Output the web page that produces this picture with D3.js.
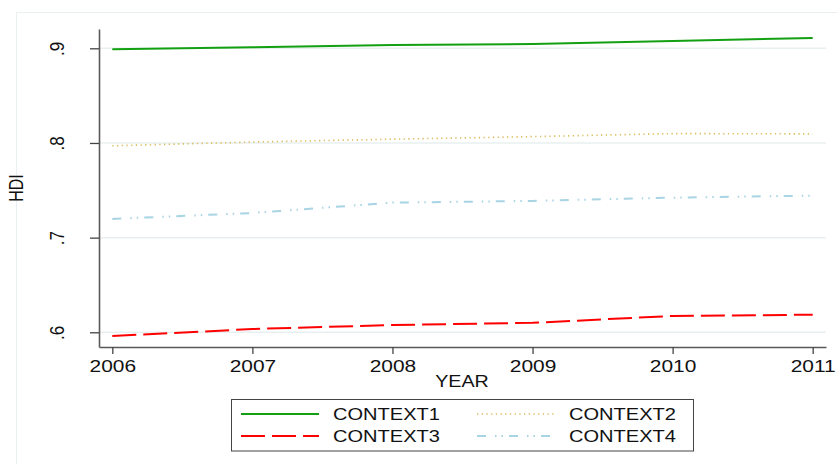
<!DOCTYPE html>
<html>
<head>
<meta charset="utf-8">
<script src="https://cdn.jsdelivr.net/npm/d3@7"></script>
<style>
  body { margin: 0; background: #fff; }
  text { font-family: "Liberation Sans", Arial, sans-serif; fill: #111; }
</style>
</head>
<body>
<div id="chart"></div>
<script>
// ------- Data -------
const years = [2006, 2007, 2008, 2009, 2010, 2011];
const context1 = [0.899, 0.901, 0.9035, 0.9045, 0.9077, 0.911];
const context2 = [0.797, 0.801, 0.804, 0.8067, 0.8099, 0.8096];
const context3 = [0.596, 0.6035, 0.6077, 0.610, 0.6173, 0.6186];
const context4 = [0.7198, 0.726, 0.737, 0.7388, 0.7422, 0.7444];
const yTicks = [0.6, 0.7, 0.8, 0.9];
const yTickLabels = [".6", ".7", ".8", ".9"];

const series = [
  { name: "CONTEXT1", values: context1, color: "#12a012", dash: null, width: 2 },
  { name: "CONTEXT2", values: context2, color: "#dcbc5c", dash: "1.3,3.4", width: 1.6 },
  { name: "CONTEXT3", values: context3, color: "#ff0000", dash: "24,7", width: 2 },
  { name: "CONTEXT4", values: context4, color: "#a8d4e4", dash: "9,9,1.5,5,1.5,6", width: 2 }
];

// ------- Chart Setup -------
const W = 837, H = 464;
const plot = { left: 99, right: 826, top: 29, bottom: 347 };
const stretch = 1.23; // text in the picture is widened

const svg = d3.select("#chart")
  .append("svg")
  .attr("width", W)
  .attr("height", H);

// outer frame
svg.append("rect")
  .attr("x", 16.5).attr("y", 12.5)
  .attr("width", W).attr("height", H)
  .attr("fill", "none")
  .attr("stroke", "#eaf0f1")
  .attr("stroke-width", 1);

const x = d3.scaleLinear()
  .domain([2005.905, 2011.095])
  .range([plot.left, plot.right]);

const y = d3.scaleLinear()
  .domain([0.58447, 0.92039])
  .range([plot.bottom, plot.top]);

// ------- Grid -------
svg.append("g")
  .selectAll("line")
  .data(yTicks)
  .enter()
  .append("line")
  .attr("x1", plot.left)
  .attr("x2", plot.right)
  .attr("y1", d => y(d))
  .attr("y2", d => y(d))
  .attr("stroke", "#e8eff1")
  .attr("stroke-width", 1.5);

// ------- Lines -------
const line = d3.line()
  .x((d, i) => x(years[i]))
  .y(d => y(d));

series.forEach(s => {
  svg.append("path")
    .datum(s.values)
    .attr("d", line)
    .attr("fill", "none")
    .attr("stroke", s.color)
    .attr("stroke-width", s.width)
    .attr("stroke-dasharray", s.dash);
});

// ------- Axes -------
const yAxis = svg.append("g")
  .attr("transform", `translate(${plot.left},0)`)
  .call(d3.axisLeft(y)
    .tickValues(yTicks)
    .tickFormat((d, i) => yTickLabels[i])
    .tickSize(9)
    .tickSizeOuter(0));

// tick groups are already translated, so only offset the label
yAxis.selectAll(".tick text")
  .attr("x", 0).attr("y", 0).attr("dy", null)
  .attr("text-anchor", "middle")
  .attr("transform", `translate(-35,0) scale(${stretch},1) rotate(-90)`)
  .style("font-size", "17px");

const xAxis = svg.append("g")
  .attr("transform", `translate(0,${plot.bottom})`)
  .call(d3.axisBottom(x)
    .tickValues(years)
    .tickFormat(d3.format("d"))
    .tickSize(7)
    .tickSizeOuter(0));

xAxis.selectAll(".tick text")
  .attr("x", 0).attr("y", 0).attr("dy", null)
  .attr("text-anchor", "middle")
  .attr("transform", `translate(0,25) scale(${stretch},1)`)
  .style("font-size", "17px");

[yAxis, xAxis].forEach(a => {
  a.select(".domain").attr("stroke", "#5a5a5a").attr("stroke-width", 1.6);
  a.selectAll(".tick line").attr("stroke", "#444").attr("stroke-width", 1.3);
  a.selectAll("text").style("font-family", "Liberation Sans, Arial, sans-serif").attr("fill", "#111");
});

// ------- Axis Labels -------
svg.append("text")
  .attr("transform", `translate(23,188) scale(${stretch},1) rotate(-90)`)
  .attr("text-anchor", "middle")
  .style("font-size", "16px")
  .text("HDI");

svg.append("text")
  .attr("transform", `translate(462,387) scale(${stretch},1)`)
  .attr("text-anchor", "middle")
  .style("font-size", "16px")
  .text("YEAR");

// ------- Legend -------
const legend = svg.append("g");

legend.append("rect")
  .attr("x", 231.5).attr("y", 399.5)
  .attr("width", 462).attr("height", 51.5)
  .attr("fill", "#fff")
  .attr("stroke", "#444")
  .attr("stroke-width", 1);

const cols = [241, 477];
const rows = [414, 436];

series.forEach((s, i) => {
  const cx = cols[i % 2];
  const cy = rows[Math.floor(i / 2)];
  legend.append("line")
    .attr("x1", cx).attr("x2", cx + 78)
    .attr("y1", cy).attr("y2", cy)
    .attr("stroke", s.color)
    .attr("stroke-width", s.width)
    .attr("stroke-dasharray", s.dash);
  legend.append("text")
    .attr("transform", `translate(${cx + 92},${cy + 6}) scale(${stretch},1)`)
    .style("font-size", "16.3px")
    .text(s.name);
});
</script>
</body>
</html>
